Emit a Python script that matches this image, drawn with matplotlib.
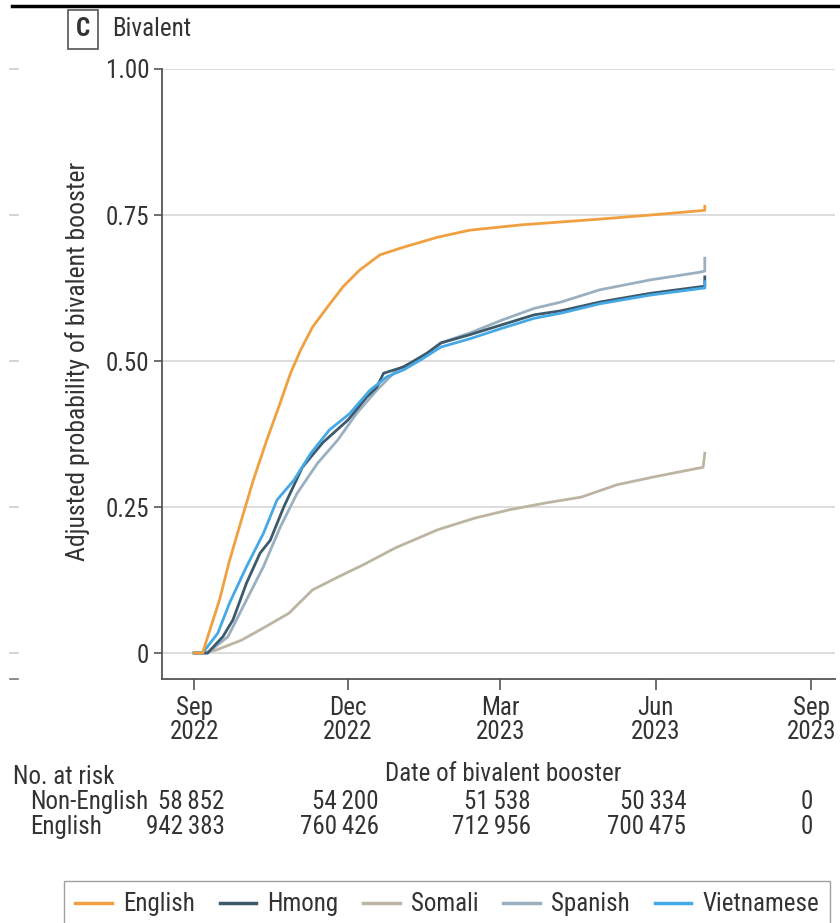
import numpy as np
import matplotlib
matplotlib.use("Agg")
import matplotlib.pyplot as plt
from matplotlib.lines import Line2D

plt.rcParams['font.family'] = ['Roboto Condensed', 'Roboto', 'DejaVu Sans']

# days since 2022-09-01, adjusted probability of bivalent booster
english_days = [0, 5, 15, 21, 28, 35, 43, 50, 57, 63, 70, 79, 88, 98, 110, 124, 144, 163, 193, 240, 270, 302, 302]
english_vals = [0, 0, 0.091, 0.159, 0.228, 0.296, 0.365, 0.421, 0.479, 0.519, 0.558, 0.593, 0.627, 0.656,
                0.682, 0.695, 0.712, 0.724, 0.733, 0.743, 0.750, 0.758, 0.765]

hmong_days = [0, 8, 17, 23, 31, 39, 45, 53, 64, 76, 91, 102, 108, 112, 124, 138, 146, 163, 182, 201, 217, 240, 270, 299, 302, 302]
hmong_vals = [0, 0, 0.028, 0.057, 0.12, 0.171, 0.193, 0.25, 0.318, 0.36, 0.399, 0.438, 0.455, 0.479, 0.490,
              0.514, 0.531, 0.545, 0.562, 0.579, 0.586, 0.601, 0.616, 0.627, 0.628, 0.644]

somali_days = [0, 5, 13, 28, 41, 56, 70, 85, 100, 119, 144, 166, 186, 208, 229, 250, 271, 292, 301, 302]
somali_vals = [0, 0, 0.005, 0.022, 0.043, 0.068, 0.108, 0.130, 0.151, 0.18, 0.211, 0.231, 0.245, 0.257,
               0.267, 0.288, 0.301, 0.313, 0.318, 0.342]

spanish_days = [0, 8, 20, 31, 41, 51, 61, 73, 85, 96, 108, 120, 134, 146, 163, 182, 201, 217, 240, 270, 299, 302, 302]
spanish_vals = [0, 0, 0.028, 0.091, 0.148, 0.216, 0.274, 0.325, 0.365, 0.41, 0.45, 0.485, 0.505, 0.531,
                0.548, 0.570, 0.590, 0.601, 0.622, 0.639, 0.652, 0.654, 0.676]

viet_days = [0, 5, 14, 21, 31, 41, 49, 59, 69, 80, 92, 104, 114, 124, 134, 146, 163, 182, 201, 217, 240, 270, 299, 302, 302]
viet_vals = [0, 0, 0.034, 0.086, 0.148, 0.205, 0.262, 0.296, 0.342, 0.382, 0.41, 0.45, 0.473, 0.485,
             0.502, 0.524, 0.538, 0.556, 0.573, 0.582, 0.598, 0.613, 0.624, 0.625, 0.636]

groups = ['English', 'Hmong', 'Somali', 'Spanish', 'Vietnamese']
colors = ['#F0A040', '#3D5A6C', '#BDB4A2', '#9AB0C0', '#45A9E5']

tick_dates = ['2022-09-01', '2022-12-01', '2023-03-01', '2023-06-01', '2023-09-01']
tick_labels = ['Sep\n2022', 'Dec\n2022', 'Mar\n2023', 'Jun\n2023', 'Sep\n2023']

risk_rows = ['Non-English', 'English']
risk_non_english = ['58\u2009852', '54\u2009200', '51\u2009538', '50\u2009334', '0']
risk_english = ['942\u2009383', '760\u2009426', '712\u2009956', '700\u2009475', '0']

base = np.datetime64('2022-09-01')
txt = '#333333'
fs = 18

fig = plt.figure(figsize=(8.4, 9.23), dpi=100)
ax = fig.add_axes([162 / 840, 1 - 679 / 923, 673 / 840, 610 / 923])

series = [(english_days, english_vals), (hmong_days, hmong_vals), (somali_days, somali_vals),
          (spanish_days, spanish_vals), (viet_days, viet_vals)]
# Somali, Spanish, Hmong, Vietnamese, then English on top
order = [2, 3, 1, 4, 0]
for i in order:
    d, v = series[i]
    dates = base + np.array(d, dtype='timedelta64[D]')
    ax.plot(dates, v, color=colors[i], lw=2.0, solid_joinstyle='round')

ax.set_xlim(base - np.timedelta64(19, 'D'), base + np.timedelta64(379, 'D'))
ax.set_ylim(-0.0445, 1.0)
ax.set_yticks([0, 0.25, 0.5, 0.75, 1.0])
ax.set_yticklabels(['0', '0.25', '0.50', '0.75', '1.00'])
ax.set_xticks([np.datetime64(t) for t in tick_dates])
ax.set_xticklabels(tick_labels, linespacing=1.0)
ax.grid(axis='y', color='#DDDDDD', lw=1.4)
ax.set_axisbelow(True)

for s in ['top', 'right']:
    ax.spines[s].set_visible(False)
for s in ['left', 'bottom']:
    ax.spines[s].set_color('#555555')
    ax.spines[s].set_linewidth(1.3)
ax.tick_params(axis='y', length=6, width=1.2, color='#555555', labelsize=fs, labelcolor=txt, pad=3)
ax.tick_params(axis='x', length=8, width=1.2, color='#555555', labelsize=fs, labelcolor=txt, pad=4)

ax.set_ylabel('Adjusted probability of bivalent booster', fontsize=18.5, color=txt)
ax.yaxis.set_label_coords(-0.107, 0.52)
ax.set_xlabel('Date of bivalent booster', fontsize=fs, color=txt)
ax.xaxis.set_label_coords(0.507, -0.136)

# risk table
fig.text(13 / 840, 1 - 777 / 923, 'No. at risk', fontsize=fs, color=txt, va='center')
for r, (name, vals) in enumerate(zip(risk_rows, [risk_non_english, risk_english])):
    yy = 1 - (802 + 25 * r) / 923
    fig.text(30 / 840, yy, name, fontsize=fs, color=txt, va='center')
    for k, t in enumerate(tick_dates):
        last = k == len(tick_dates) - 1
        ax.annotate(vals[k], xy=(np.datetime64(t), yy), xycoords=('data', 'figure fraction'),
                    xytext=(-3 if last else 22, 0), textcoords='offset points',
                    ha='center' if last else 'right', va='center', fontsize=fs, color=txt,
                    annotation_clip=False)

# panel header
fig.add_artist(Line2D([12 / 840, 1], [1 - 6 / 923, 1 - 6 / 923], color='black', lw=2.5))
fig.text(83 / 840, 1 - 29 / 923, 'C', fontsize=fs, fontweight='bold', color=txt, ha='center', va='center',
         bbox=dict(boxstyle='square,pad=0.3', fc='white', ec='#555555', lw=1.2))
fig.text(112 / 840, 1 - 29 / 923, 'Bivalent', fontsize=fs, color=txt, va='center')

# faint marks from the neighbouring panel
for yp in [69, 215, 361, 507, 653]:
    fig.add_artist(Line2D([10 / 840, 18 / 840], [1 - yp / 923] * 2, color='#CCCCCC', lw=1.2))
fig.add_artist(Line2D([10 / 840, 18 / 840], [1 - 679 / 923] * 2, color='#777777', lw=1.2))

handles = [Line2D([], [], color=c, lw=2.5) for c in colors]
fig.legend(handles, groups, loc='upper left', bbox_to_anchor=(64 / 840, 1 - 881 / 923), ncol=5,
           fontsize=fs, frameon=True, fancybox=False, edgecolor='#888888', handlelength=1.45,
           handletextpad=0.45, columnspacing=1.0, borderpad=0.45, borderaxespad=0, labelcolor=txt)

fig.savefig('out.png', dpi=100)
